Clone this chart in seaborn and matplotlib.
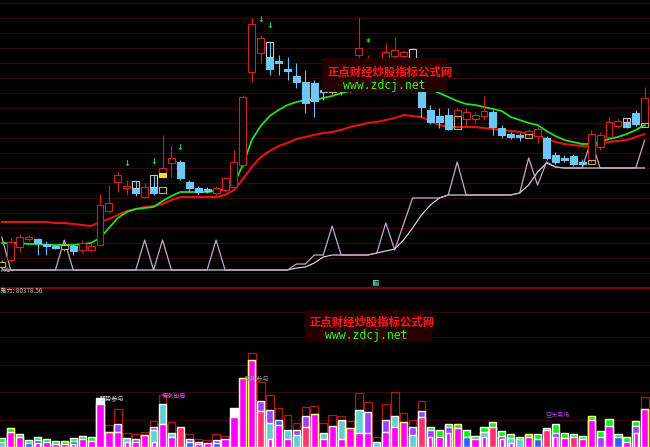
import matplotlib
matplotlib.use("Agg")
import matplotlib.pyplot as plt
import seaborn as sns
import numpy as np
from matplotlib.patches import Rectangle

# ---- K-line data (price units) ----
style = list("yrrrbbbybr" "rrrrrbrbrr" "bbbbrrrrrr" "bbbbbbbybr" "rrbrrrwbbb"
             "brrrrbbbbr" "rbbbbbrrrr" "bbr")
body_hi = [25, 45, 50, 50, 48, 43, 41, 42, 41, 44,
           41, 82, 84, 112, 101, 99, 100, 100, 119, 129,
           125, 105, 99, 98, 99, 109, 125, 190, 263, 249,
           230, 226, 218, 211, 205, 204, 197, 197, 199, 202,
           239, 227, 222, 235, 237, 235, 238, 197, 177, 171,
           172, 177, 175, 172, 176, 175, 159, 153, 152, 156,
           158, 149, 132, 129, 131, 125, 153, 152, 165, 166,
           165, 174, 189]
body_lo = [20, 27, 40, 48, 44, 41, 39, 38, 36, 37,
           37, 42, 76, 105, 99, 94, 90, 94, 110, 124,
           109, 99, 95, 96, 94, 97, 100, 122, 215, 234,
           218, 224, 216, 205, 184, 186, 195, 195, 196, 197,
           232, 221, 215, 229, 231, 231, 229, 180, 165, 165,
           158, 171, 168, 168, 171, 160, 152, 150, 150, 153,
           151, 129, 125, 127, 123, 123, 127, 140, 150, 161,
           160, 163, 164]
high = [27, 49, 53, 52, 49, 46, 42, 44, 43, 47,
        44, 93, 102, 115, 107, 106, 104, 112, 152, 142,
        127, 107, 101, 100, 101, 110, 137, 192, 269, 252,
        245, 232, 230, 224, 217, 207, 204, 199, 203, 207,
        270, 232, 227, 244, 250, 237, 239, 202, 182, 179,
        179, 179, 179, 175, 191, 177, 162, 155, 154, 158,
        160, 151, 135, 132, 133, 128, 157, 155, 170, 169,
        169, 177, 200]
low = [19, 25, 35, 46, 32, 32, 38, 36, 32, 34,
       35, 41, 75, 95, 92, 91, 89, 92, 109, 110,
       107, 95, 93, 94, 92, 95, 99, 120, 205, 224,
       212, 212, 207, 199, 174, 170, 187, 193, 192, 194,
       229, 217, 212, 227, 229, 229, 227, 170, 163, 159,
       157, 169, 160, 164, 167, 152, 149, 148, 146, 151,
       144, 127, 123, 125, 121, 121, 125, 137, 149, 159,
       159, 161, 160]

# overlay boxes drawn by the indicator
box_idx = [15, 17, 30, 70, 18, 51, 59, 66, 72, 18]
box_hi = [106, 112, 245, 169, 100, 171, 153, 127, 164, 114]
box_lo = [99, 100, 230, 165, 94, 158, 149, 123, 160, 110]
box_kind = ["w", "w", "w", "w", "y", "y", "y", "y", "y", "f"]

ma_fast = [44, 44, 44, 43, 43, 42, 42, 42, 42, 43,
           44, 49, 59, 69, 75, 78, 79, 80, 86, 91,
           95, 95, 95, 95, 96, 98, 103, 122, 147, 161,
           171, 177, 182, 185, 187, 187, 189, 191, 194, 196,
           197, 198, 199, 200, 201, 201, 201, 200, 198, 194,
           190, 186, 183, 182, 180, 178, 176, 170, 167, 164,
           162, 156, 151, 147, 145, 143, 143, 145, 148, 150,
           153, 157, 162]
ma_slow = [65, 65, 65, 65, 65, 65, 64, 64, 63, 62,
           61, 65, 68, 72, 76, 78, 80, 81, 83, 87,
           90, 90, 90, 90, 90, 92, 97, 108, 120, 130,
           136, 141, 144, 148, 150, 152, 154, 155, 157, 160,
           162, 164, 165, 167, 169, 172, 171, 170, 166, 162,
           160, 160, 160, 160, 159, 158, 157, 156, 155, 153,
           152, 148, 145, 143, 142, 141, 140, 143, 145, 146,
           147, 150, 153]
line_a = [50, 17, 17, 17, 17, 17, 17, 47, 17, 17,
          17, 17, 17, 17, 17, 17, 47, 17, 47, 17,
          17, 17, 17, 17, 47, 17, 17, 17, 17, 17,
          17, 17, 17, 23, 23, 32, 32, 61, 32, 32,
          32, 32, 34, 64, 37, 63, 89, 89, 89, 89,
          92, 125, 92, 92, 92, 92, 92, 92, 94, 129,
          102, 125, 120, 119, 119, 119, 147, 119, 119, 119,
          119, 119, 147]
line_b = [17] * 33 + [19, 20, 24, 30, 32, 32, 32,
                      32, 32, 34, 36, 38, 47, 59, 72, 82, 89,
                      92, 92, 92, 92, 92, 92, 92, 92, 94, 102,
                      115, 124, 120, 119, 119, 119, 119, 119, 119, 119,
                      119, 119, 119]

arrow_idx = [14, 17, 20, 29, 30]
arrow_val = [124, 125, 139, 267, 262]

# ---- lower panel bars ----
outline = [0, 0, 0, 0, 0, 0, 0, 0, 0, 0,
           0, 0, 22, 38, 14, 13, 15, 26, 52, 25,
           0, 13, 8, 7, 13, 11, 0, 0, 94, 65,
           52, 39, 32, 24, 40, 41, 24, 32, 31, 26,
           54, 45, 10, 43, 55, 34, 27, 46, 0, 0,
           0, 0, 0, 0, 0, 0, 0, 0, 0, 0,
           0, 0, 0, 0, 0, 0, 0, 0, 0, 0,
           0, 0, 50]
vol = [9, 19, 13, 7, 10, 8, 6, 6, 9, 11,
       10, 49, 15, 23, 9, 8, 12, 20, 43, 14,
       20, 8, 5, 4, 7, 8, 39, 69, 87, 46,
       37, 27, 17, 17, 31, 33, 14, 21, 27, 19,
       37, 35, 5, 27, 31, 25, 20, 36, 20, 17,
       23, 23, 17, 11, 20, 25, 16, 13, 10, 13,
       13, 19, 23, 14, 13, 11, 31, 16, 28, 13,
       10, 26, 38]
vol_color = list("GGGGGGGGGG" "GWMPCPMPCC" "RPPMPMWMMP" "PBCPPMCMCM"
                 "CPCPCMPPGG" "GGGGGGGGGG" "GGGGGGGGGG" "GGM")
mid = [5, 15, 10, 4, 7, 5, 3, 3, 6, 8,
       6, 43, 0, 15, 0, 5, 0, 17, 23, 10,
       0, 5, 3, 0, 4, 0, 30, 0, 0, 36,
       24, 22, 8, 12, 20, 0, 8, 0, 8, 0,
       14, 14, 0, 15, 20, 0, 12, 30, 17, 10,
       20, 19, 10, 8, 15, 20, 11, 9, 8, 10,
       8, 17, 14, 9, 10, 8, 27, 10, 21, 10,
       5, 21, 0]
mid_color = list("CMMBBMMMBM" "MMMMMMMCMM" "MBMMBMMMMR" "CMMCRMMMMM"
                 "MMMMMMCRPM" "PMBMCRPCCM" "BRPMRMMPMB" "MPM")
core = [0, 0, 0, 0, 4, 0, 0, 0, 3, 0,
        0, 0, 0, 0, 5, 0, 0, 5, 0, 0,
        0, 0, 0, 0, 0, 0, 0, 0, 0, 0,
        8, 0, 0, 0, 0, 0, 0, 0, 0, 0,
        0, 0, 0, 0, 0, 0, 0, 0, 10, 0,
        14, 0, 0, 0, 10, 0, 8, 4, 0, 0,
        0, 0, 10, 0, 0, 0, 0, 0, 0, 0,
        0, 14, 0]
yellow_idx = [1, 7, 12, 16, 27, 28, 35, 39, 45, 51, 59, 66, 68, 72]

sns.set_theme(style="dark")
plt.rcParams["font.family"] = ["Noto Sans CJK SC", "DejaVu Sans"]
plt.rcParams["axes.unicode_minus"] = False

fig = plt.figure(figsize=(6.5, 4.47), dpi=100, facecolor="black")
ax1 = fig.add_axes([0, 160 / 447, 1, 287 / 447])
ax2 = fig.add_axes([0, 0, 1, 160 / 447])
for ax in (ax1, ax2):
    ax.set_axis_off()
    ax.set_xlim(-0.2, 72.59)
ax1.set_ylim(0, 287)
ax2.set_ylim(0, 160)

x = np.arange(len(style))

# grid
for g in range(284, 0, -15):
    ax1.axhline(g, color="#3e0a12", lw=0.6, zorder=0)
for g in [27, 55, 82, 110, 135]:
    ax2.axhline(g, color="#3e0a12", lw=0.6, zorder=0)
ax2.axhline(159.3, color="#9a0000", lw=1.2, zorder=5)

# grey indicator lines
sns.lineplot(x=x, y=line_b, ax=ax1, color="#e6e6ee", lw=0.8, zorder=1)
sns.lineplot(x=x, y=line_a, ax=ax1, color="#c8a8c8", lw=0.9, zorder=1)

# moving averages
sns.lineplot(x=x, y=ma_slow, ax=ax1, color="#e41212", lw=1.5, zorder=2)
sns.lineplot(x=x, y=ma_fast, ax=ax1, color="#22e022", lw=1.3, zorder=2)

# candles
cmap = {"r": "#d42020", "b": "#6ec8f5", "y": "#c8b060", "w": "#c8c8c8"}
edge = [cmap[s] for s in style]
face = [cmap[s] if s == "b" else "black" for s in style]
ax1.vlines(x, low, high, colors=edge, lw=0.8, zorder=3)
heights = np.maximum(np.array(body_hi) - np.array(body_lo), 0.8)
ax1.bar(x, heights, bottom=body_lo, width=0.78, color=face, edgecolor=edge,
        linewidth=0.8, zorder=4)

bmap = {"w": ("none", "#c8c8c8"), "y": ("none", "#c8b060"), "f": ("#f0e020", "#f0e020")}
for i, hi, lo, k in zip(box_idx, box_hi, box_lo, box_kind):
    fc, ec = bmap[k]
    ax1.bar(i, hi - lo, bottom=lo, width=0.78, facecolor=fc, edgecolor=ec,
            linewidth=0.8, zorder=5)

for i, v in zip(arrow_idx, arrow_val):
    ax1.text(i, v, "↓", color="#20e020", fontsize=6, ha="center", va="center",
             family="DejaVu Sans", fontweight="bold", zorder=6)
ax1.text(41, 244, "*", color="#20e020", fontsize=7, ha="center", va="center",
         family="DejaVu Sans", fontweight="bold", zorder=6)

# lower panel bars
pal = {"G": "#10f010", "W": "#ffffff", "M": "#ff00ff", "P": "#a040ff",
       "C": "#60d0d0", "R": "#ff3070", "B": "#3060ff"}
oi = [i for i in x if outline[i] > 0]
ax2.bar(oi, [outline[i] for i in oi], width=0.86, facecolor="none",
        edgecolor="#b01818", linewidth=0.9, zorder=2)
ax2.bar(x, vol, width=0.8, color=[pal[c] for c in vol_color], zorder=3)
mi = [i for i in x if mid[i] > 0]
ax2.bar(mi, [mid[i] for i in mi], width=0.8,
        color=[pal[mid_color[i]] for i in mi], zorder=4)
ci = [i for i in x if core[i] > 0]
ax2.bar(ci, [core[i] for i in ci], width=0.45, color=pal["M"], zorder=5)
ax2.bar(yellow_idx, [vol[i] for i in yellow_idx], width=0.8, facecolor="none",
        edgecolor="#ffff70", linewidth=0.8, zorder=6)


def ftext(px, py, s, **kw):
    fig.text(px / 650, 1 - py / 447, s, **kw)


# watermarks
for bx, by, bw, bh in [(322, 58, 125, 34), (305, 310, 127, 32)]:
    fig.patches.append(Rectangle((bx / 650, 1 - (by + bh) / 447), bw / 650, bh / 447,
                                 transform=fig.transFigure, facecolor="#260000",
                                 edgecolor="none", zorder=8))
for rx, ry, gx, gy in [(328, 72, 343, 85), (310, 322, 325, 335)]:
    ftext(rx, ry, "正点财经炒股指标公式网", color="#ff1818", fontsize=8.2,
          fontweight="bold", ha="left", va="center", zorder=9)
    ftext(gx, gy, "www.zdcj.net", color="#22ff22", fontsize=8.3,
          family="DejaVu Sans Mono", ha="left", va="center", zorder=9)

# labels
ftext(0, 291, "鬼力: 80378.56", color="#c8c8c8", fontsize=4.6, ha="left", va="center")
ftext(112, 399, "强势参与", color="#d8d8d8", fontsize=4.4, ha="center", va="center", zorder=9)
ftext(257, 379, "强势参与", color="#9a9a9a", fontsize=4.4, ha="center", va="center", zorder=9)
ftext(174, 396, "慢涨出局", color="#e050e0", fontsize=4.4, ha="center", va="center", zorder=9)
ftext(558, 415, "空头离场", color="#b040e0", fontsize=4.4, ha="center", va="center", zorder=9)
ftext(6, 270, "持有", color="#a0a0a0", fontsize=3.8, ha="center", va="center")
ftext(376, 283, "顶", color="#103030", fontsize=3.8, ha="center", va="center",
      bbox=dict(boxstyle="square,pad=0.15", facecolor="#40c0b0", edgecolor="none"))

fig.savefig("out.png", dpi=100, facecolor="black")
